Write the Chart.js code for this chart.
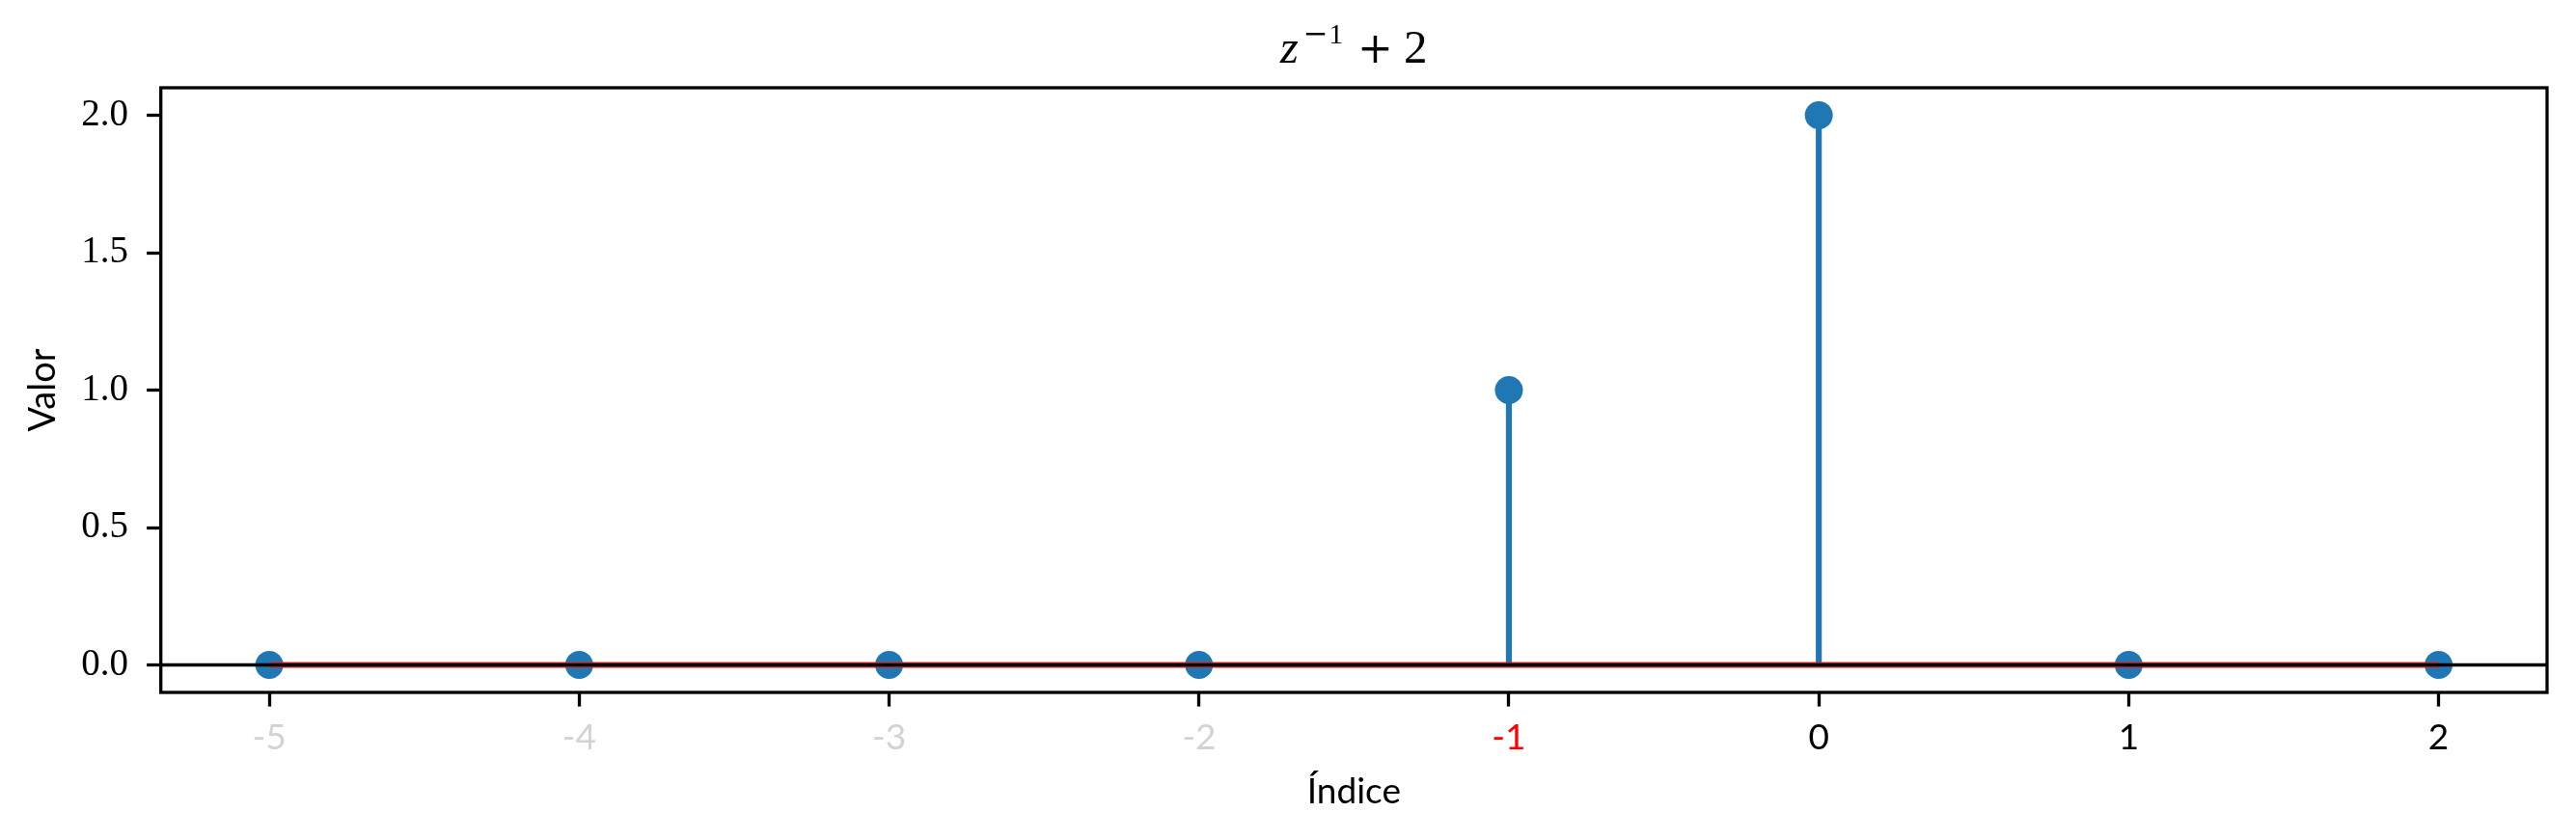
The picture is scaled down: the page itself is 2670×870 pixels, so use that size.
<!DOCTYPE html>
<html>
<head>
<meta charset="utf-8">
<title>z^-1 + 2</title>
<script src="https://cdn.jsdelivr.net/npm/chart.js@4.4.1/dist/chart.umd.min.js"></script>
<style>
  html, body { margin: 0; padding: 0; background: #fff; }
  canvas { display: block; }
</style>
</head>
<body>
<canvas id="chartStem" width="2670" height="870"></canvas>
<script>
// data
const indices = [-5, -4, -3, -2, -1, 0, 1, 2];
const values = [0, 0, 0, 0, 1, 2, 0, 0];
const xTicks = [-5, -4, -3, -2, -1, 0, 1, 2];
const yTicks = [0.0, 0.5, 1.0, 1.5, 2.0];
const xRange = [-5.35, 2.35];
const yRange = [-0.1, 2.1];

const BLUE = "#1f77b4";
const SERIF = "'Liberation Serif', 'DejaVu Serif', serif";
const MATHOP = "'DejaVu Serif', serif";
const SANS = "Lato, 'DejaVu Sans', sans-serif";

// stems: one segment per index, broken by null gaps
const stemPoints = [];
indices.forEach((x, i) => {
  stemPoints.push({ x: x, y: 0 }, { x: x, y: values[i] }, { x: x, y: null });
});
const markerPoints = indices.map((x, i) => ({ x: x, y: values[i] }));
const basePoints = [{ x: indices[0], y: 0 }, { x: indices[indices.length - 1], y: 0 }];

function labelColor(v) {
  if (v < -1) return "#d3d3d3";
  if (v === -1) return "#ff0000";
  return "#000000";
}

// title z^{-1} + 2, frame, and the y=0 axhline
const extras = {
  id: "extras",
  afterDatasetsDraw(chart) {
    const { ctx, chartArea: a, scales } = chart;
    const y0 = scales.y.getPixelForValue(0);
    ctx.save();
    ctx.strokeStyle = "#000";
    ctx.lineWidth = 3.3;
    ctx.beginPath();
    ctx.moveTo(a.left, y0);
    ctx.lineTo(a.right, y0);
    ctx.stroke();
    ctx.strokeRect(a.left, a.top, a.right - a.left, a.bottom - a.top);
    ctx.restore();
  },
  afterDraw(chart) {
    const { ctx, chartArea: a } = chart;
    const cx = (a.left + a.right) / 2;
    // glyph centres relative to the plot centre, like TeX math spacing
    const parts = [
      { t: "z", f: "italic 49px " + SERIF, dx: -67, y: 65 },
      { t: "\u2212", f: "31px " + MATHOP, dx: -39.5, y: 45 },
      { t: "1", f: "30px " + SERIF, dx: -18.5, y: 45 },
      { t: "+", f: "44px " + MATHOP, dx: 22, y: 65 },
      { t: "2", f: "49px " + SERIF, dx: 64, y: 65 }
    ];
    ctx.save();
    ctx.fillStyle = "#000";
    ctx.textBaseline = "alphabetic";
    ctx.textAlign = "center";
    parts.forEach(p => {
      ctx.font = p.f;
      ctx.fillText(p.t, cx + p.dx, p.y);
    });
    ctx.restore();
  }
};

new Chart(document.getElementById("chartStem"), {
  type: "scatter",
  data: {
    datasets: [
      {
        data: basePoints,
        showLine: true,
        borderColor: "#d62728",
        borderWidth: 6.2,
        pointRadius: 0,
        order: 0
      },
      {
        data: markerPoints,
        showLine: false,
        pointRadius: 14.5,
        pointBackgroundColor: BLUE,
        pointBorderWidth: 0,
        order: 1
      },
      {
        data: stemPoints,
        showLine: true,
        spanGaps: false,
        borderColor: BLUE,
        borderWidth: 6.2,
        borderCapStyle: "butt",
        pointRadius: 0,
        order: 2
      }
    ]
  },
  options: {
    responsive: false,
    animation: false,
    layout: { padding: { top: 91, right: 30, left: 0, bottom: 0 } },
    plugins: {
      legend: { display: false },
      tooltip: { enabled: false },
      title: { display: false }
    },
    scales: {
      x: {
        type: "linear",
        min: xRange[0],
        max: xRange[1],
        afterBuildTicks: s => { s.ticks = xTicks.map(v => ({ value: v })); },
        afterFit: s => { s.height = 152; },
        border: { display: false },
        grid: { drawOnChartArea: false, tickLength: 14.6, tickWidth: 3.3, tickColor: "#000" },
        ticks: {
          padding: 10,
          maxRotation: 0,
          font: { family: SANS, size: 37 },
          color: c => labelColor(c.tick.value),
          callback: v => String(v)
        },
        title: {
          display: true,
          text: "Índice",
          color: "#000",
          font: { family: SANS, size: 37 },
          padding: { top: 0, bottom: 27 }
        }
      },
      y: {
        type: "linear",
        min: yRange[0],
        max: yRange[1],
        afterBuildTicks: s => { s.ticks = yTicks.map(v => ({ value: v })); },
        afterFit: s => { s.width = 166.7; },
        border: { display: false },
        grid: { drawOnChartArea: false, tickLength: 14.6, tickWidth: 3.3, tickColor: "#000" },
        ticks: {
          padding: 19,
          font: { family: SERIF, size: 39 },
          color: "#000",
          callback: v => Number(v).toFixed(1)
        },
        title: {
          display: true,
          text: "Valor",
          color: "#000",
          font: { family: SANS, size: 38 },
          padding: { top: 22, bottom: 0 }
        }
      }
    }
  },
  plugins: [extras]
});
</script>
</body>
</html>
